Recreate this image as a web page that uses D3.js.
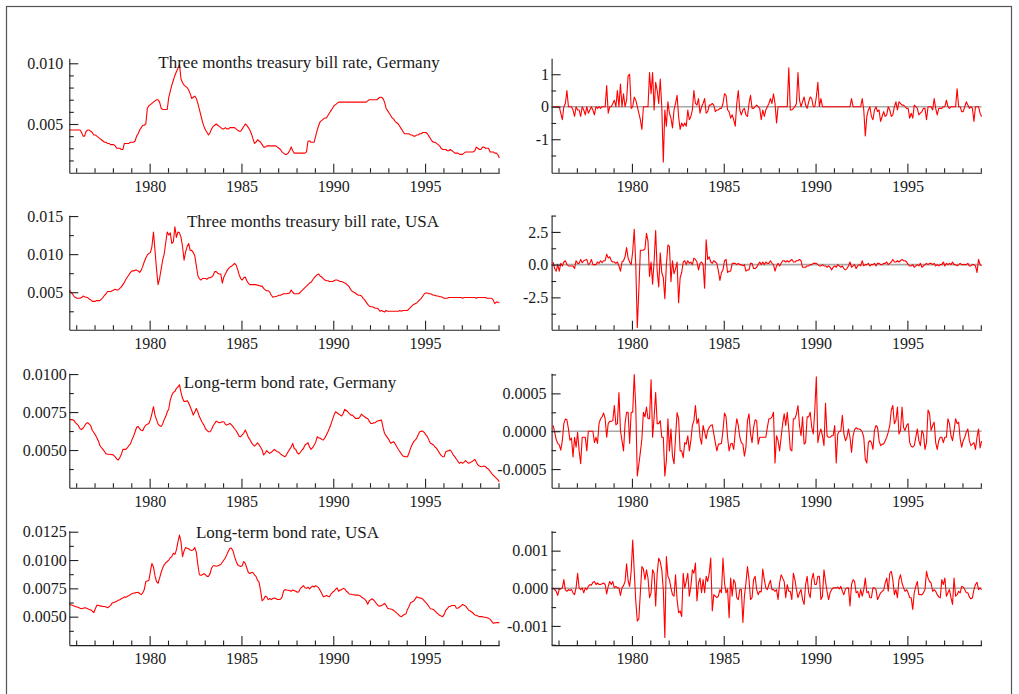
<!DOCTYPE html>
<html>
<head>
<meta charset="utf-8">
<script src="https://cdn.jsdelivr.net/npm/d3@7"></script>
<style>
  body { margin: 0; background: #fff; }
  svg text { font-family: "Liberation Serif", "Times New Roman", serif; fill: #1a1a1a; }
</style>
</head>
<body>
<svg id="chart" width="1019" height="694"></svg>
<script>

// monthly data, levels start Aug 1975, differences start Sep 1975 (both end Jan 1999)
const LEVEL_START = 1975 + 7.5 / 12;
const DIFF_START = 1975 + 8.5 / 12;
const X_DOMAIN = [1975.625, 1999.042];

const yearLabels = [1980, 1985, 1990, 1995];
const yearMinor = [1976, 1977, 1978, 1979, 1981, 1982, 1983, 1984, 1986, 1987, 1988, 1989,
                   1991, 1992, 1993, 1994, 1996, 1997, 1998, 1999];

// three months treasury bill rate, Germany (units of 1e-4)
const tbGer = [
  45,45,45,45,45,
  45,45,45,43,40,40,44,45,45,44,43,41,
  41,40,39,38,37,36,35,35,34,34,33,33,
  33,32,30,30,30,29,29,34,34,34,34,35,
  35,35,36,40,42,45,47,49,49,50,63,65,
  66,67,68,69,70,70,68,63,62,62,62,62,
  72,77,82,86,90,93,96,99,87,84,82,81,
  80,78,75,71,72,73,71,67,62,57,52,48,
  45,43,41,43,46,48,49,50,49,48,47,46,
  46,47,46,46,47,47,47,47,46,45,44,44,
  46,48,50,49,47,45,42,38,34,35,37,36,
  35,33,31,31,32,32,32,32,32,32,32,31,
  30,29,27,26,25,25,26,28,31,28,26,26,
  26,26,26,26,26,26,27,36,36,35,35,35,
  40,45,49,52,53,54,55,55,57,59,61,63,
  65,66,67,68,68,68,68,68,68,68,68,68,
  68,68,68,68,68,68,68,68,68,68,69,70,
  70,70,70,70,70,71,72,72,71,68,63,61,
  59,57,55,54,52,51,50,48,46,44,42,42,
  42,42,41,41,40,40,41,41,42,42,43,43,
  43,42,40,38,36,35,35,34,33,32,30,29,
  29,29,28,28,29,28,27,26,26,26,25,25,
  25,26,27,27,27,27,27,27,28,31,30,29,
  29,31,31,30,30,30,27,27,27,26,26,25,
  22
];

// its standardised change
const tbGerD = [
  0,0,0,0,
  0,-0.2,-0.4,0,0.1,0.5,0,0,0,-0.1,-0.3,0,
  -0.1,-0.1,-0.3,0,-0.1,-0.25,0,-0.2,-0.1,0,-0.1,-0.25,
  0,-0.05,0,-0.05,0,0,0,0.65,-0.2,0,0,0.1,
  0.2,0,0.5,0,0.7,0,0.4,0,0.2,0.95,1.0,-0.05,
  0,0.3,0.2,0,-0.2,-0.4,-0.7,0,0,0,0,1.05,
  0.4,1.05,-0.1,0.75,0.5,0.1,0.85,0,-1.7,-0.1,-0.6,0.15,
  -0.2,-0.35,-0.65,-0.1,0.1,0.35,-0.3,-0.7,-0.5,-0.6,-0.5,-0.6,
  -0.1,-0.4,-0.3,-0.1,0.5,0.1,0.05,0.25,-0.2,0,0.1,0.25,
  -0.2,-0.15,0.05,0.05,0.1,0.05,-0.15,-0.1,-0.1,-0.05,-0.05,0.1,
  0.4,0.35,-0.1,-0.15,-0.35,-0.25,-0.4,-0.6,0.1,0.5,-0.1,-0.25,
  -0.1,-0.05,-0.25,-0.3,0.1,0.35,-0.05,-0.05,0,0.05,0,-0.05,
  -0.4,-0.1,-0.3,-0.1,0,0.1,0.25,0.1,0.4,0.1,-0.5,0,
  0,0,0,0,0,0,1.2,-0.1,-0.1,-0.05,0,0.1,
  1.05,0.2,0,0.15,0.3,0.05,-0.05,0.15,0.3,0.25,0,0,
  0.3,0.75,0,0.25,0,0,0,0,0,0,0,0,
  0,0,0,0,0,0,0,0,0,0,0,0.25,
  0,0,0,0,0,0,0.25,-0.1,-0.9,-0.3,-0.1,0,
  -0.3,-0.4,-0.1,0,-0.15,-0.1,-0.45,-0.3,-0.15,-0.3,-0.25,0,
  -0.1,-0.3,-0.25,0,0.15,-0.1,0.15,0.1,0.05,0.05,0,-0.05,
  -0.05,-0.35,-0.2,-0.35,0.05,0,-0.05,-0.25,-0.2,-0.15,-0.05,-0.05,
  -0.4,0,0,0,-0.1,0.25,-0.05,-0.25,-0.05,-0.05,-0.05,0,
  0,0.2,0,-0.05,0,0,0,0,0.55,0,0,-0.15,
  -0.15,0,0.15,0.05,-0.05,0,-0.05,-0.45,0,0,0,-0.2,
  -0.3
];

// three months treasury bill rate, USA (units of 1e-4)
const tbUsa = [
  53,50,48,45,43,
  42,42,42,43,45,44,43.5,43,41,40,38,38,
  38,39,39,39,41,43,46,48,51,51,51,52,
  53,54,53,53,55,57,60,63,67,70,73,76,
  78,78,79,79,78,76,79,84,90,95,99,101,
  102,110,129,105,80,60,68,80,92,100,115,129,
  125,128,114,116,136,122,129,128,122,110,92,103,
  110,114,105,105,102,98,85,72,68,66,68,68,
  68,67,69,69,70,72,77,77,75,74,74,62,
  70,74,78,81,83,84,86,88,86,80,73,68,
  66,69,70,65,62,60,60,60,60,60,59,59,
  58,58,55,53,52,52,50,46,43.5,44,44.5,45,
  46,46,47,48,48,48,48.5,49,53,50,48,48,
  48,48,50,52,54,56,58,60,62,63,66,69,
  71,73,74,71,70,68,66,65,65,64,64,64,
  65,66,66,65,64,64,63,62,61,59,57,53,
  51,50,49,47,46,46,45,42,40,37,34,32,
  31,31,30,29,29,28,25,26,25,24,26,25,
  25,25,25,25,25,25,25,26,25,26,26,26,
  26,28,30,32,34,35,36,38,40,42,45,48,
  49,49,48,48,47,46,46,45,45,44,44,43,
  42,42,42,43,43,43,43,43,43,43,43,43,
  42,43,43,43,43,43,43,43,43,42,43,43,
  43,43,43,43,42,42,42,42,40,35,37,37,
  36
];

const tbUsaD = [
  0.2,-0.3,-0.5,0,
  -0.5,0.1,-0.1,0.2,0.3,0,-0.1,-0.1,-0.1,-0.1,-0.3,0.3,
  0.1,0.1,0.4,0.15,0.3,0.35,0.4,0,0.1,0.4,0,0,
  0,0.2,0.1,0.3,0.15,0.3,0.3,0.8,0.5,0.6,0.3,0.2,
  0.2,0.1,0.2,-0.1,-0.5,0.2,0.3,0.6,1.3,0.5,0.2,0,
  1.0,2.7,0,-4.8,-2.0,1.1,1.1,1.1,1.2,2.4,1.8,-0.9,
  0.2,-1.5,0.3,2.6,-0.5,-1.7,0.9,-0.6,-1.0,-2.6,0,1.5,
  1.4,-1.3,0.3,-0.7,-0.3,0.2,-2.9,-1.0,-0.6,0.2,0.3,0,
  0.3,0.1,0.2,0,0.5,0.4,0.2,-0.4,0.1,0.2,0,-1.8,
  1.9,0.4,0.6,0.2,0.1,0.3,0.2,0.1,-0.5,-1.2,-0.6,-0.4,
  0.3,0.4,-0.6,-0.5,-0.5,0.1,0.1,0.1,0,0.1,0,0,
  -0.1,0,-0.5,-0.4,-0.4,0.1,0.1,-0.3,-0.3,-0.2,0,0.2,
  0,0.2,0,0.2,0.1,0.1,0.3,0.1,0,-0.5,-0.1,0.1,
  -0.1,0.1,0.3,0.3,0.2,0.3,0.2,0.3,0.4,0.2,0.2,0.3,
  0.3,0.4,0.3,-0.2,-0.2,-0.2,-0.1,-0.1,0,0,0.1,0.1,
  0.1,0,-0.1,-0.1,0,-0.1,-0.1,-0.2,-0.1,-0.2,-0.4,-0.2,
  -0.1,-0.2,0,-0.1,-0.2,-0.1,-0.3,-0.4,-0.3,-0.1,0.2,-0.2,
  -0.1,0,-0.3,-0.1,0,-0.1,0.3,-0.1,0,0,0.1,-0.1,
  0,0,0.1,-0.1,0.1,0.1,0,0,0.1,0.1,0.2,0,
  0.1,0.2,0.4,0.2,0.2,0.3,0.2,0.3,0.4,0.3,0.3,0.2,
  0,-0.1,-0.1,0,-0.2,-0.1,0,-0.1,0.1,-0.2,-0.1,0,
  0.1,0,0.1,0.1,0,0.1,-0.1,0,-0.1,0,0,0.2,
  -0.1,0.1,0,0.1,0,0.2,0,0,-0.1,0,0.1,0,
  0,0,0,0.1,-0.1,-0.1,0,0,-0.1,-0.6,0.4,0,
  -0.1
];

// long-term bond rate, Germany (units of 1e-4)
const bondGer = [
  70,70,70,69.5,68,
  67,66,64,63.5,64.3,66,67.5,68,67,66,63,61.5,
  60,58,56,53,51.5,50.4,49,47.5,47.3,47.2,47.1,47,
  46.5,45.5,44,43.4,45,47,50.4,50.4,50.4,51.5,53,54,
  57,59,62,65,65.4,64,63,62.7,65,66.4,67,67.5,
  70,74,78.5,73,70,67,66,65.5,67,70,72,75,
  77,83,86,88,88.5,90.6,91.5,93,88,84,82,82,
  82.5,81,78.5,76,73,75,77.4,75,72,70,68,66.4,
  64,63,62,62,63.5,66,67.5,69,68.5,68,68.2,68.6,
  68.6,67,66.4,67,67.5,66.5,65.4,64,62.7,61,59,58.8,
  60,61,63.2,61,58.3,57,55,53.5,52.6,53.5,54.8,53.5,
  51.8,50,46.7,48,49.6,48.5,47.8,48.5,49.5,50.4,49.5,48.9,
  48.5,47.5,46.7,46,45.6,47,48.9,50.4,52,54.4,51,50.4,
  48,47.4,48.5,50,51,53.3,54,54.8,52,50.4,51.5,53.3,
  55,58.8,58,57.7,57,56.6,58,59.9,62,64.3,67,70,
  73,75.2,74.5,73.7,73,72.4,74,76.8,76,75.2,74,73,
  73,72,70.8,70.8,70.8,72,73.7,72.5,71.9,71,70.8,69,
  67.5,67.5,68,68,69,69.3,69.5,69.7,65,61,59.5,58,
  56.5,54.4,55,55.5,54,52.2,50.5,48.9,47.5,46.1,45.8,45.6,
  45.6,48,51.1,53.5,55.5,56.5,57.7,60,62,62.3,62.5,61.5,
  60,58.8,56.5,54.4,54,53.3,52,51.1,49.5,47.8,46.5,45.6,
  45.6,48.9,49.3,49.6,50,48.5,46.7,45.5,43.9,42.5,41.2,42,
  41.2,42,43,42,41.2,41.8,42.3,43,43.9,42,40.1,39.5,
  39,39.2,39.5,39,38,37.3,36,34.6,33.5,32.5,31.5,30.5,
  29.2
];

// monthly change (units of 1e-4)
const bondGerD = [
  0.76,-0.13,-1.1,-1.6,
  -1.8,-2.5,-1.25,1.0,1.6,1.5,0.3,-1.2,-0.9,-3.4,-0.8,-2.1,
  -0.13,-2.6,-4.3,-0.8,-0.8,-0.8,-2.6,0,0,0,0,-1.5,
  -0.8,-1.6,1.0,1.65,1.9,2.4,1.65,-0.8,1.0,1.3,1.3,1.4,
  3.4,0.85,1.0,5.1,0.1,-1.25,-2.6,1.0,2.5,2.5,-1.6,2.5,
  2.5,7.5,3.2,-5.9,-4.4,-2.8,-1.0,2.5,1.9,3.2,1.65,1.65,
  6.8,-0.8,1.9,5.1,1.0,1.0,1.4,-0.8,-0.8,-5.9,-3.9,1.65,
  -2.6,0.3,-3.3,-4.3,-0.8,2.45,1.65,-2.6,-2.6,-3.5,-1.5,-1.7,
  -0.6,-2.6,-1.25,0.76,1.4,3.4,1.0,1.65,-0.8,-1.7,0.76,-0.13,
  -1.0,0.1,0.5,0.76,0.85,-0.36,-1.5,-2.6,-1.7,-1.7,-1.6,0.1,
  2.4,1.9,-0.8,-2.6,-1.7,-1.6,-2.4,-0.13,1.65,0.76,-0.8,-1.5,
  -1.7,-3.3,-2.1,1.4,2.3,-0.36,-1.5,0.5,1.5,1.4,-1.7,-0.8,
  -0.8,-0.8,-0.8,-0.8,0.5,1.65,1.65,1.9,2.5,-4.2,-0.6,-1.25,
  -2.6,-0.8,1.0,2.3,0.76,2.5,0.3,-2.4,-2.6,1.65,1.65,2.3,
  3.4,0.76,-0.6,1.9,-1.7,-1.5,1.9,1.9,2.5,0.5,-0.36,2.8,
  7.2,-1.5,-0.36,0.3,-0.6,-1.9,3.7,-0.6,-0.8,-0.8,-0.6,-0.6,
  0.76,-4.2,-0.36,0,0,2.1,-0.36,-1.25,-0.8,0.3,-0.8,-2.8,
  -0.6,0.2,0.45,0.3,0.3,0.2,-0.13,-0.8,-3.7,-4.2,-1.5,-1.25,
  -1.5,-2.4,0.1,0.76,0.5,-1.25,-1.9,-1.7,-1.7,-1.25,-0.8,-0.13,
  0.76,2.8,3.4,1.0,1.4,3.2,-0.36,0.1,3.2,0.5,0.1,0.76,
  1.0,-1.5,-2.0,-2.1,-1.9,-0.8,0.3,-1.25,-1.9,0.1,-0.36,-2.4,
  -1.5,2.8,2.3,0.1,0.76,1.2,-1.5,-2.4,-1.25,-0.8,-0.8,-1.5,
  -0.8,-0.8,1.65,1.0,-0.6,-1.25,0.1,1.65,1.0,1.2,-1.0,-2.1,
  -1.25,-0.8,-0.13,0.3,-1.25,-1.9,-1.7,-1.5,-2.4,-0.8,0.3,-2.2,
  -1.3
];

// long-term bond rate, USA (units of 1e-4)
const bondUsa = [
  61,60.5,60,59.5,59,
  58.5,58,57.5,57,57.5,57.8,57.6,57,56.4,56,55,53.5,
  57,60,60,59.5,59.3,59,59,58.5,57.9,58.8,60,62,
  62.5,63,63.7,64.5,65,65.8,66.5,67.5,67,68,68.7,69.5,
  70.4,70.7,71,71.3,71.6,70.5,69.5,71,73.9,81,81.5,82,
  90,97,94,86,81,79.5,84,89,92.9,95.8,97.5,98.7,
  100,102,103,106,105,109,116,122,116,103,108,111,
  110.5,110,108.9,108.5,109,111,107,96,87,86.5,87,88,
  87,85.6,85.6,88,93,95,95,94.5,94.9,95.5,96,98,
  100,102,105,108,110.4,110.5,108,103,99,95.8,95,94.3,
  95,98.7,97,93,89,88,89,89,87,85.6,82,80.5,
  73,64,65.2,68,67.5,65,66,65,66,66.5,66,65.2,
  65.2,65.5,67,72.5,73.9,73.5,73.3,73,72.5,73.5,73,72.5,
  71.5,72,75,76,77.4,75.5,75,76,74.5,76,77,76.2,
  77.4,76.5,75.4,73,70.5,67.5,68,68.7,68,67.5,70,71.5,
  72.5,74,75.4,72.5,73.5,73.9,75,74.5,72.5,71.5,70,69.8,
  69.5,69.3,69,69,69,68.5,67.2,66.5,65.5,64,61,64,
  65,65.8,64.5,62.8,61,59.5,59.3,59.9,60.5,61.7,60,57.5,
  57,56.7,56.4,55.5,54.5,53.2,52,50.5,50,51,52,52.5,
  56.4,59,62.3,63,63.7,65.5,67.5,67,66.6,66.2,65.5,64,
  62.5,60.8,59,57,56.7,56.4,55,53.5,52.5,51.2,50.5,50,
  52,55.5,57,58.8,59.2,59.9,59.9,59.9,57.5,57.5,58.5,59.5,
  60.8,60,59.3,57.5,55.8,55,54.1,53,51.5,51.2,50.5,50,
  50,50,49.5,49.5,49.1,48.5,47.7,46,44.2,44.5,44.7,44.7,
  44.7
];

const bondUsaD = [
  0.1,-0.35,-0.8,-1.9,
  -0.2,-0.2,0.1,2.3,-0.5,-0.8,-0.35,-0.6,-0.35,-1.2,-1.7,0.1,
  4.0,0.1,-0.35,0.1,-1.2,0.1,-0.35,0.5,1.0,0.8,1.6,1.8,
  1.0,1.4,1.0,1.0,1.2,1.4,1.0,-1.5,0.5,1.8,1.0,1.8,
  0.1,0.5,0.1,0.1,-1.9,0.1,0.7,1.8,6.5,2.0,0.5,4.5,
  12.8,4.5,-3.4,-8.7,-8.2,-1.2,5.8,5.1,2.3,4.9,2.7,-2.5,
  -1.2,4.9,4.0,-4.7,4.0,8.0,7.1,4.9,-0.35,-13.1,8.4,3.2,
  2.3,0.1,-1.7,-2.1,3.6,-3.0,-6.5,-6.0,-7.5,4.0,0.1,1.8,
  4.0,-2.1,0.5,4.9,4.0,6.7,-3.4,1.4,2.7,-1.2,2.3,-1.2,
  3.2,1.8,4.0,8.0,-6.0,-1.7,-2.1,-2.5,-2.1,-0.35,-1.2,8.0,
  1.4,-1.2,-0.2,-7.8,2.7,-2.1,2.3,1.4,-2.5,-3.0,-0.35,-0.35,
  -9.1,-2.1,1.4,5.8,2.3,-3.0,-2.5,2.3,3.2,-0.35,-1.7,-0.8,
  -1.0,5.1,2.3,0.1,-0.35,1.0,2.1,-0.35,-0.35,-0.8,-0.35,-3.0,
  1.4,3.6,2.7,1.8,-2.5,1.0,-0.8,-0.8,-3.0,4.0,2.3,-0.35,
  -2.5,-1.2,-0.35,-3.0,-4.3,1.0,3.2,-1.2,-2.5,2.3,4.0,1.0,
  1.0,3.2,3.2,-3.0,-2.1,4.9,1.8,-0.8,-3.0,-1.2,-0.35,0.1,
  0.1,0.1,0.35,-0.2,0.5,-0.8,-1.7,-0.2,0.1,0.1,-4.7,1.0,
  2.3,1.8,-1.2,-0.8,-2.5,-0.35,-2.1,-0.35,2.7,-1.2,-0.8,-2.5,
  -2.5,0.1,0.1,-0.35,-3.0,-2.1,-1.2,-0.8,-0.5,1.4,2.7,-0.8,
  4.0,4.5,2.3,-1.7,-0.35,-2.5,2.3,3.6,1.4,0.1,-0.8,-0.35,
  -1.2,-2.5,-2.5,-5.6,-1.2,0.5,1.8,-1.7,-1.7,-1.7,-1.2,-0.35,
  4.5,2.7,1.8,1.4,-0.8,-0.35,-0.8,-1.7,-2.3,-2.5,2.3,1.0,
  2.7,-2.1,-1.2,-0.35,-2.5,-4.3,2.7,-2.1,-1.7,-0.8,-1.2,0.5,
  0.35,-0.35,-1.2,-1.2,-2.3,-2.8,-2.5,-0.35,1.0,1.6,-0.35,0.1,
  -0.35
];

// ---- layout ----
const LEFT_X = 69.3, RIGHT_X = 551.6, PANEL_W = 430, PANEL_H = 114.4;
const rowTops = [58.3, 215.3, 373.3, 530.7];

const panels = [
  { col: LEFT_X, row: 0, values: tbGer, unit: 1e-4, start: LEVEL_START,
    domain: [0.00099, 0.01041], major: [0.005, 0.010],
    minor: [0.002, 0.003, 0.004, 0.006, 0.007, 0.008, 0.009], digits: 3, gap: 6,
    title: "Three months treasury bill rate, Germany", titleX: 299, titleY: 68.3 },
  { col: RIGHT_X, row: 0, values: tbGerD, unit: 1, start: DIFF_START, zero: true,
    domain: [-2.03, 1.49], major: [-1, 0, 1], minor: [-1.5, -0.5, 0.5], digits: 0, gap: 2.5 },
  { col: LEFT_X, row: 1, values: tbUsa, unit: 1e-4, start: LEVEL_START,
    domain: [0.00008, 0.0151], major: [0.005, 0.010, 0.015],
    minor: [0.0025, 0.0075, 0.0125], digits: 3, gap: 6,
    title: "Three months treasury bill rate, USA", titleX: 313, titleY: 227.3 },
  { col: RIGHT_X, row: 1, values: tbUsaD, unit: 1, start: DIFF_START, zero: true,
    domain: [-4.97, 3.77], major: [-2.5, 0, 2.5], minor: [-3.75, -1.25, 1.25, 3.75], digits: 1, gap: 3.4 },
  { col: LEFT_X, row: 2, values: bondGer, unit: 1e-4, start: LEVEL_START,
    domain: [0.00252, 0.01005], major: [0.005, 0.0075, 0.010],
    minor: [0.00375, 0.00625, 0.00875], digits: 4, gap: 2.6,
    title: "Long-term bond rate, Germany", titleX: 290, titleY: 388.3 },
  { col: RIGHT_X, row: 2, values: bondGerD, unit: 1e-4, start: DIFF_START, zero: true,
    domain: [-0.000746, 0.000765], major: [-0.0005, 0, 0.0005],
    minor: [-0.00025, 0.00025, 0.00075], digits: 4, gap: 5 },
  { col: LEFT_X, row: 3, values: bondUsa, unit: 1e-4, start: LEVEL_START,
    domain: [0.00249, 0.01259], major: [0.005, 0.0075, 0.010, 0.0125],
    minor: [0.00375, 0.00625, 0.00875, 0.01125], digits: 4, gap: 2.6,
    title: "Long-term bond rate, USA", titleX: 287.5, titleY: 538.3 },
  { col: RIGHT_X, row: 3, values: bondUsaD, unit: 1e-4, start: DIFF_START, zero: true,
    domain: [-0.00151, 0.00153], major: [-0.001, 0, 0.001],
    minor: [-0.0015, -0.0005, 0.0005, 0.0015], digits: 3, gap: 3.4 }
];

const svg = d3.select("#chart");

// outer frame
svg.append("rect")
    .attr("x", 6.5).attr("y", 6.5)
    .attr("width", 1005).attr("height", 720)
    .attr("fill", "none")
    .attr("stroke", "#555")
    .attr("stroke-width", 1.2);

function styleAxis(g) {
  g.selectAll("path, line").attr("stroke", "#222").attr("stroke-width", 1.1);
  g.selectAll("text")
    .attr("font-family", "Liberation Serif, Times New Roman, serif")
    .attr("font-size", "16px")
    .attr("fill", "#1a1a1a");
}

function drawPanel(p) {
  let g = svg.append("g")
      .attr("transform", "translate(" + p.col + "," + rowTops[p.row] + ")");

  let x = d3.scaleLinear().domain(X_DOMAIN).range([0, PANEL_W]);
  let y = d3.scaleLinear().domain(p.domain).range([PANEL_H, 0]);

  // zero reference for the differenced series
  if (p.zero) {
    g.append("line")
        .attr("x1", 0).attr("x2", PANEL_W)
        .attr("y1", y(0)).attr("y2", y(0))
        .attr("stroke", "#a8a8a8")
        .attr("stroke-width", 1.6);
  }

  let line = d3.line()
      .x(function(d, i) { return x(p.start + i / 12); })
      .y(function(d) { return y(d * p.unit); });

  g.append("path")
      .datum(p.values)
      .attr("fill", "none")
      .attr("stroke", "#ff0000")
      .attr("stroke-width", 1.1)
      .attr("stroke-linejoin", "round")
      .attr("d", line);

  // y axis, ticks point into the plot
  g.append("g")
      .call(d3.axisLeft(y).tickValues(p.major).tickSize(-9).tickSizeOuter(0)
              .tickPadding(p.gap)
              .tickFormat(function(d) { return d.toFixed(p.digits); }))
      .call(styleAxis);

  g.append("g")
      .call(d3.axisLeft(y).tickValues(p.minor).tickSize(-4.5).tickFormat(""))
      .call(function(a) { a.select(".domain").remove(); })
      .call(styleAxis);

  // x axis
  g.append("g")
      .attr("transform", "translate(0," + PANEL_H + ")")
      .call(d3.axisBottom(x).tickValues(yearLabels).tickSize(-9).tickSizeOuter(0)
              .tickPadding(8).tickFormat(d3.format("d")))
      .call(styleAxis);

  g.append("g")
      .attr("transform", "translate(0," + PANEL_H + ")")
      .call(d3.axisBottom(x).tickValues(yearMinor).tickSize(-4.5).tickFormat(""))
      .call(function(a) { a.select(".domain").remove(); })
      .call(styleAxis);

  if (p.title) {
    svg.append("text")
        .attr("x", p.titleX)
        .attr("y", p.titleY)
        .attr("text-anchor", "middle")
        .attr("font-size", "17px")
        .text(p.title);
  }
}

panels.forEach(drawPanel);

</script>
</body>
</html>
